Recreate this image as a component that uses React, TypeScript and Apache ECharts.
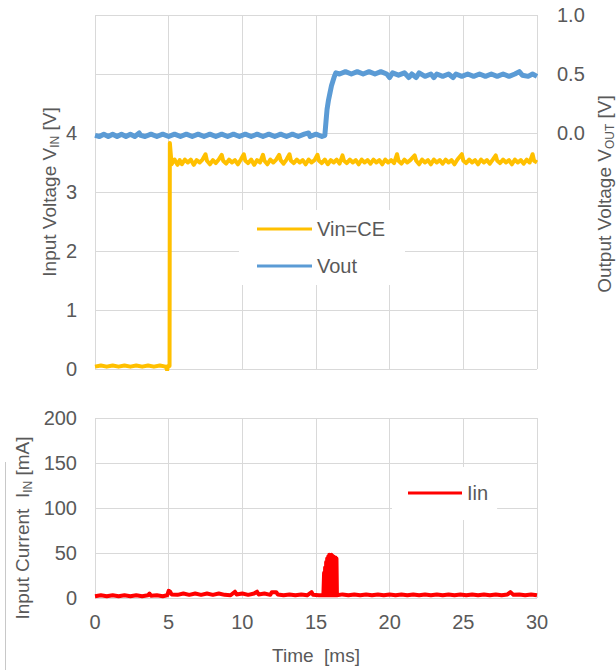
import React, { useEffect, useRef } from "react";
import * as echarts from "echarts";

const FONT = "'Liberation Sans', Arial, sans-serif";
const TXT = "#595959";
const GRID = "#d9d9d9";

const timeTicks = [0, 5, 10, 15, 20, 25, 30];
const vinLabels = ["0", "1", "2", "3", "4"];
const voutLabels = ["0.0", "0.5", "1.0"];
const iinLabels = ["0", "50", "100", "150", "200"];

const seriesNames = ["Vin=CE", "Vout", "Iin"];

// Vin=CE [V] vs time [ms]
const vinPoints: [number, number][] = [
  [0, 0.04], [0.4, 0.06], [0.8, 0.04], [1.2, 0.06], [1.6, 0.04], [2.0, 0.06], [2.4, 0.04], [2.8, 0.06],
  [3.2, 0.04], [3.6, 0.06], [4.0, 0.04], [4.4, 0.06], [4.8, 0.04], [4.9, -0.02], [4.95, 0.05], [5.06, 0.05],
  [5.08, 3.83], [5.15, 3.62], [5.2, 3.47], [5.4, 3.55], [5.6, 3.46], [5.75, 3.54], [5.9, 3.47], [6.1, 3.55],
  [6.3, 3.5], [6.5, 3.55], [6.7, 3.46], [6.9, 3.54], [7.1, 3.5], [7.3, 3.55], [7.5, 3.64], [7.6, 3.53],
  [7.8, 3.47], [8.0, 3.54], [8.2, 3.49], [8.4, 3.55], [8.6, 3.63], [8.7, 3.53], [8.9, 3.48], [9.1, 3.55],
  [9.3, 3.5], [9.5, 3.54], [9.7, 3.47], [9.9, 3.55], [10.1, 3.64], [10.2, 3.53], [10.4, 3.49], [10.6, 3.55],
  [10.8, 3.46], [11.0, 3.54], [11.2, 3.5], [11.4, 3.63], [11.5, 3.53], [11.7, 3.47], [11.9, 3.55], [12.1, 3.5],
  [12.3, 3.55], [12.5, 3.63], [12.6, 3.54], [12.8, 3.48], [13.0, 3.55], [13.2, 3.64], [13.3, 3.53], [13.5, 3.49],
  [13.7, 3.55], [13.9, 3.5], [14.1, 3.54], [14.3, 3.47], [14.5, 3.55], [14.7, 3.5], [14.9, 3.54], [15.1, 3.63],
  [15.2, 3.53], [15.4, 3.49], [15.6, 3.55], [15.8, 3.47], [16.0, 3.54], [16.2, 3.5], [16.4, 3.55], [16.6, 3.48],
  [16.8, 3.62], [16.9, 3.53], [17.1, 3.49], [17.3, 3.55], [17.5, 3.5], [17.7, 3.54], [17.9, 3.47], [18.1, 3.55],
  [18.3, 3.5], [18.5, 3.54], [18.7, 3.48], [18.9, 3.55], [19.1, 3.5], [19.3, 3.54], [19.5, 3.47], [19.7, 3.55],
  [19.9, 3.5], [20.1, 3.54], [20.3, 3.49], [20.5, 3.64], [20.6, 3.53], [20.8, 3.48], [21.0, 3.55], [21.2, 3.5],
  [21.4, 3.54], [21.7, 3.62], [21.8, 3.53], [22.0, 3.47], [22.2, 3.55], [22.4, 3.5], [22.6, 3.54], [22.8, 3.47],
  [23.0, 3.55], [23.2, 3.5], [23.4, 3.54], [23.6, 3.48], [23.8, 3.55], [24.0, 3.5], [24.2, 3.54], [24.4, 3.47],
  [24.6, 3.55], [24.9, 3.64], [25.0, 3.53], [25.2, 3.49], [25.4, 3.55], [25.6, 3.5], [25.8, 3.54], [26.0, 3.47],
  [26.2, 3.55], [26.4, 3.5], [26.6, 3.54], [26.8, 3.48], [27.0, 3.55], [27.2, 3.62], [27.3, 3.53], [27.5, 3.49],
  [27.7, 3.55], [27.9, 3.5], [28.1, 3.54], [28.3, 3.47], [28.5, 3.55], [28.7, 3.5], [28.9, 3.54], [29.1, 3.48],
  [29.3, 3.55], [29.5, 3.5], [29.7, 3.64], [29.8, 3.53], [30.0, 3.5],
];

// Vout [V] vs time [ms]
const voutPoints: [number, number][] = [
  [0, -0.02], [0.3, -0.03], [0.6, -0.01], [0.9, -0.03], [1.2, -0.01], [1.5, -0.03], [1.8, -0.01], [2.1, -0.03],
  [2.4, -0.01], [2.7, -0.03], [3.0, 0.0], [3.1, -0.02], [3.4, -0.03], [3.8, -0.01], [4.2, -0.03], [4.6, -0.01],
  [5.0, -0.03], [5.4, -0.01], [5.8, -0.03], [6.2, -0.01], [6.6, -0.03], [7.0, -0.01], [7.4, -0.03], [7.8, -0.01],
  [8.2, -0.03], [8.6, -0.01], [9.0, -0.03], [9.4, -0.01], [9.8, -0.03], [10.2, -0.01], [10.6, -0.03], [11.0, -0.01],
  [11.4, -0.03], [11.8, -0.01], [12.2, -0.03], [12.6, -0.01], [13.0, -0.03], [13.4, -0.01], [13.8, -0.03], [14.2, -0.01],
  [14.5, 0.0], [14.6, -0.03], [15.0, -0.01], [15.4, -0.03], [15.6, -0.02], [15.68, 0.1], [15.75, 0.2], [15.85, 0.28],
  [15.95, 0.34], [16.05, 0.4], [16.15, 0.44], [16.25, 0.48], [16.35, 0.51], [16.6, 0.5], [17.0, 0.52], [17.4, 0.5],
  [17.8, 0.52], [18.2, 0.5], [18.6, 0.52], [19.0, 0.5], [19.4, 0.52], [19.8, 0.5], [20.0, 0.47], [20.2, 0.51],
  [20.6, 0.49], [21.0, 0.51], [21.3, 0.47], [21.5, 0.5], [21.8, 0.47], [22.0, 0.51], [22.4, 0.48], [22.8, 0.5],
  [23.0, 0.47], [23.2, 0.5], [23.6, 0.48], [24.0, 0.5], [24.3, 0.47], [24.5, 0.5], [24.9, 0.48], [25.3, 0.5],
  [25.7, 0.48], [26.1, 0.5], [26.5, 0.48], [26.9, 0.5], [27.3, 0.48], [27.7, 0.5], [28.1, 0.48], [28.5, 0.5],
  [28.8, 0.52], [29.0, 0.49], [29.4, 0.48], [29.7, 0.5], [30.0, 0.48],
];

// Iin [mA] vs time [ms]
const iinPoints: [number, number][] = [
  [0, 2], [0.4, 3], [0.8, 2], [1.2, 3], [1.6, 2], [2.0, 3], [2.4, 2], [2.8, 3], [3.2, 2], [3.6, 3], [3.7, 5],
  [3.8, 2.5], [4.2, 3], [4.6, 2], [4.9, 3], [5.0, 8], [5.1, 7], [5.2, 4], [5.6, 3.5], [6.0, 5], [6.4, 3.5],
  [6.8, 5], [7.2, 3.5], [7.6, 5], [8.0, 3.5], [8.4, 5], [8.8, 3.5], [9.2, 3], [9.5, 7], [9.6, 4], [10.0, 5],
  [10.4, 3.5], [10.8, 5], [11.0, 7], [11.1, 4], [11.5, 5], [11.9, 3.5], [12.0, 6.5], [12.3, 6.5], [12.4, 4],
  [12.8, 3], [13.2, 4], [13.6, 3], [14.0, 4], [14.4, 3], [14.7, 6.5], [14.8, 3.5], [15.2, 3], [15.5, 3],
  [15.55, 28], [15.58, 3], [15.62, 34], [15.65, 3], [15.69, 40], [15.72, 3], [15.76, 44], [15.79, 3],
  [15.83, 46], [15.86, 3], [15.9, 48], [15.93, 3], [15.97, 47], [16.0, 3], [16.04, 48], [16.07, 3],
  [16.11, 47], [16.14, 3], [16.18, 46], [16.21, 3], [16.25, 45], [16.28, 3], [16.32, 45], [16.35, 3],
  [16.39, 44], [16.42, 3], [16.46, 3], [16.8, 4], [17.2, 3], [17.6, 4], [18.0, 3], [18.4, 4], [18.8, 3],
  [19.2, 4], [19.6, 3], [20.0, 4], [20.4, 3], [20.8, 4], [21.2, 3], [21.6, 4], [22.0, 3], [22.4, 4], [22.8, 3],
  [23.2, 4], [23.6, 3], [24.0, 4], [24.4, 3], [24.8, 4], [25.2, 3], [25.6, 4], [26.0, 3], [26.4, 4], [26.8, 3],
  [27.2, 4], [27.6, 3], [28.0, 4], [28.2, 6.5], [28.4, 3.5], [28.8, 4], [29.2, 3], [29.6, 4], [30.0, 3],
];

const tickStyle = { fontSize: 20, color: TXT, fontFamily: FONT };
const split = { show: true, lineStyle: { color: GRID, width: 1 } };

const nameRich = {
  a: { fontSize: 19, fontFamily: FONT, fill: TXT, lineHeight: 23 },
  s: { fontSize: 12, fontFamily: FONT, fill: TXT, lineHeight: 12, verticalAlign: "bottom" },
};

function axisName(x: number, y: number, text: string, rotate: boolean) {
  return {
    type: "text",
    x,
    y,
    rotation: rotate ? Math.PI / 2 : 0,
    silent: true,
    style: {
      text,
      rich: nameRich,
      fill: TXT,
      fontSize: 19,
      fontFamily: FONT,
      align: "center",
      verticalAlign: "middle",
    },
  };
}

export default function App() {
  const ref = useRef<HTMLDivElement>(null);
  useEffect(() => {
    const chart = echarts.init(ref.current!, null, { renderer: "svg" });
    const xMin = timeTicks[0];
    const xMax = timeTicks[timeTicks.length - 1];
    const option: any = {
      animation: false,
      backgroundColor: "#fff",
      grid: [
        { left: 95, top: 15, width: 442, height: 354 },
        { left: 95, top: 418, width: 442, height: 180 },
      ],
      xAxis: [
        {
          gridIndex: 0, type: "value", min: xMin, max: xMax, interval: 5,
          axisLine: { show: false }, axisTick: { show: false }, axisLabel: { show: false }, splitLine: split,
        },
        {
          gridIndex: 1, type: "value", min: xMin, max: xMax, interval: 5,
          axisLine: { show: false }, axisTick: { show: false },
          axisLabel: { ...tickStyle, margin: 14 }, splitLine: split,
        },
      ],
      yAxis: [
        {
          gridIndex: 0, type: "value", min: 0, max: 6, interval: 1,
          axisLine: { show: false }, axisTick: { show: false }, splitLine: split,
          axisLabel: {
            ...tickStyle, margin: 18,
            formatter: (v: number) => (vinLabels.includes(String(v)) ? String(v) : ""),
          },
        },
        {
          gridIndex: 0, type: "value", min: -2, max: 1, interval: 0.5, position: "right",
          axisLine: { show: false }, axisTick: { show: false }, splitLine: { show: false },
          axisLabel: {
            ...tickStyle, margin: 20,
            formatter: (v: number) => (voutLabels.includes(v.toFixed(1)) ? v.toFixed(1) : ""),
          },
        },
        {
          gridIndex: 1, type: "value", min: 0, max: 200, interval: 50,
          axisLine: { show: false }, axisTick: { show: false }, splitLine: split,
          axisLabel: {
            ...tickStyle, margin: 18,
            formatter: (v: number) => (iinLabels.includes(String(v)) ? String(v) : ""),
          },
        },
      ],
      legend: [
        {
          data: [seriesNames[0], seriesNames[1]],
          orient: "vertical", left: 239, top: 210,
          icon: "rect", itemWidth: 55, itemHeight: 3, itemGap: 17,
          padding: [9, 20, 9, 18], backgroundColor: "#fff",
          textStyle: { fontSize: 20, color: TXT, fontFamily: FONT },
        },
        {
          data: [seriesNames[2]],
          orient: "vertical", left: 392, top: 467,
          icon: "rect", itemWidth: 54, itemHeight: 3,
          padding: [16, 9, 17, 16], backgroundColor: "#fff",
          textStyle: { fontSize: 20, color: TXT, fontFamily: FONT },
        },
      ],
      series: [
        {
          name: seriesNames[0], type: "line", xAxisIndex: 0, yAxisIndex: 0,
          data: vinPoints, symbol: "none", color: "#FFC000",
          lineStyle: { width: 4, color: "#FFC000", join: "round" },
        },
        {
          name: seriesNames[1], type: "line", xAxisIndex: 0, yAxisIndex: 1,
          data: voutPoints, symbol: "none", color: "#5B9BD5",
          lineStyle: { width: 5, color: "#5B9BD5", join: "round" },
        },
        {
          name: seriesNames[2], type: "line", xAxisIndex: 1, yAxisIndex: 2,
          data: iinPoints, symbol: "none", color: "#FF0000",
          lineStyle: { width: 4, color: "#FF0000", join: "round" },
        },
      ],
      graphic: [
        axisName(49, 192, "{a|Input Voltage V}{s|IN}{a| [V]}", true),
        axisName(604, 194, "{a|Output Voltage V}{s|OUT}{a| [V]}", true),
        axisName(22, 528, "{a|Input Current  I}{s|IN}{a| [mA]}", true),
        axisName(316, 655, "{a|Time  [ms]}", false),
        {
          type: "line", silent: true,
          shape: { x1: 5.5, y1: 462, x2: 5.5, y2: 670 },
          style: { stroke: "#c8c8c8", lineWidth: 1 },
        },
      ],
    };
    chart.setOption(option);
    return () => chart.dispose();
  }, []);
  return (
    <div
      ref={ref}
      style={{ position: "fixed", left: 0, top: 0, width: 616, height: 670, background: "#fff" }}
    />
  );
}
